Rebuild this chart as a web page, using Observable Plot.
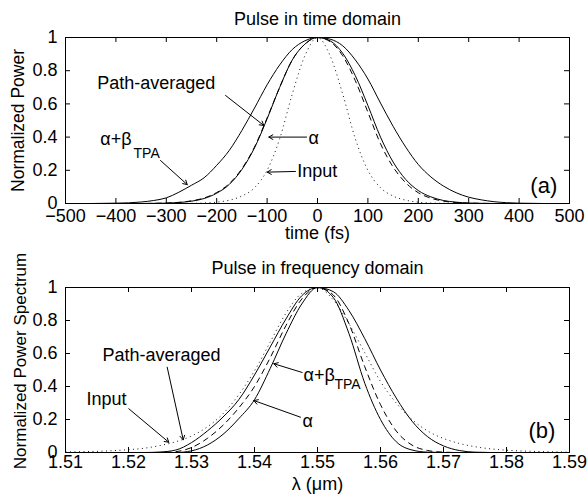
<!DOCTYPE html>
<html>
<head>
<meta charset="utf-8">
<script src="https://cdn.jsdelivr.net/npm/d3@7"></script>
<script src="https://cdn.jsdelivr.net/npm/@observablehq/plot@0.6"></script>
<style>
  html, body { margin: 0; padding: 0; background: white; overflow: hidden; }
  #chart svg { display: block; overflow: visible; }
</style>
</head>
<body>
<div id="chart"></div>
<script>
// ---------- Panel (a): time domain ----------
const timeFs = [-500,-475,-450,-425,-400,-375,-350,-325,-300,-275,-250,-225,-200,-175,-150,-125,-100,-75,-50,-25,0,25,50,75,100,125,150,175,200,225,250,275,300,325,350,375,400,425,450,475,500];
const timeInput = [0,0,0,0,0,0,0,0,0,0,0.001,0.003,0.008,0.02,0.045,0.095,0.20,0.39,0.66,0.89,1.0,0.89,0.66,0.39,0.20,0.095,0.045,0.02,0.008,0.003,0.001,0,0,0,0,0,0,0,0,0,0];
const timeAlpha = [0,0,0,0,0,0,0,0.001,0.002,0.006,0.014,0.03,0.062,0.115,0.205,0.335,0.51,0.70,0.865,0.96,1.0,0.98,0.905,0.77,0.59,0.40,0.25,0.145,0.078,0.04,0.018,0.008,0.003,0.001,0,0,0,0,0,0,0];
const timePathAvg = [0,0,0,0,0,0,0,0.001,0.003,0.007,0.016,0.033,0.066,0.12,0.21,0.34,0.515,0.70,0.865,0.96,1.0,0.975,0.89,0.74,0.55,0.36,0.22,0.125,0.065,0.032,0.014,0.006,0.002,0.001,0,0,0,0,0,0,0];
const timeAlphaTPA = [0,0,0,0.001,0.002,0.004,0.009,0.018,0.034,0.068,0.11,0.155,0.23,0.32,0.44,0.575,0.715,0.835,0.928,0.98,1.0,0.99,0.95,0.865,0.75,0.605,0.465,0.34,0.235,0.16,0.105,0.065,0.038,0.022,0.011,0.005,0.002,0.001,0,0,0];
const timeTicks = [-500,-400,-300,-200,-100,0,100,200,300,400,500];

// ---------- Panel (b): frequency domain ----------
const lambdaUm = [1.51,1.5125,1.515,1.5175,1.52,1.5225,1.525,1.5275,1.53,1.5325,1.535,1.5375,1.54,1.5425,1.545,1.5475,1.55,1.5525,1.555,1.5575,1.56,1.5625,1.565,1.5675,1.57,1.5725,1.575,1.5775,1.58,1.5825,1.585,1.5875,1.59];
const specInput = [0.003,0.005,0.007,0.011,0.017,0.026,0.042,0.065,0.10,0.155,0.235,0.35,0.495,0.67,0.845,0.965,0.998,0.925,0.78,0.605,0.43,0.30,0.20,0.13,0.085,0.055,0.035,0.022,0.014,0.009,0.006,0.004,0.002];
const specAlpha = [0,0,0,0,0,0,0,0,0.01,0.045,0.11,0.205,0.32,0.51,0.72,0.90,1.0,0.94,0.72,0.42,0.20,0.065,0.015,0.002,0,0,0,0,0,0,0,0,0];
const specPathAvg = [0,0,0,0,0,0,0,0.005,0.03,0.085,0.165,0.27,0.40,0.575,0.77,0.93,1.0,0.955,0.78,0.52,0.29,0.13,0.045,0.012,0.002,0,0,0,0,0,0,0,0];
const specAlphaTPA = [0,0,0,0,0,0,0.003,0.015,0.06,0.13,0.215,0.32,0.47,0.64,0.81,0.95,1.0,0.975,0.86,0.69,0.50,0.33,0.19,0.095,0.04,0.012,0.002,0,0,0,0,0,0];
const lambdaTicks = [1.51,1.52,1.53,1.54,1.55,1.56,1.57,1.58,1.59];

const powerTicks = [0,0.2,0.4,0.6,0.8,1];

const FONT = "'Liberation Sans', Arial, Helvetica, sans-serif";
const minusFmt = d => (d < 0 ? "\u2212" + (-d) : String(d));

function rows(xs, ys) { return ys.map((v, i) => ({x: xs[i], y: v})); }

function lineMarks(xs, input, alpha, avg, tpa) {
  return [
    Plot.line(rows(xs, input), {x: "x", y: "y", curve: "monotone-x", stroke: "#111", strokeWidth: 1, strokeDasharray: "1,3.5", strokeLinecap: "butt"}),
    Plot.line(rows(xs, avg), {x: "x", y: "y", curve: "monotone-x", stroke: "black", strokeWidth: 1, strokeDasharray: "6,4", strokeLinecap: "butt"}),
    Plot.line(rows(xs, alpha), {x: "x", y: "y", curve: "monotone-x", stroke: "black", strokeWidth: 1}),
    Plot.line(rows(xs, tpa), {x: "x", y: "y", curve: "monotone-x", stroke: "black", strokeWidth: 1})
  ];
}

function tickMarks(xt, yt, fw, fh) {
  const L = 5;
  return [
    Plot.tickX(xt, {x: d => d, insetTop: fh - L, stroke: "black"}),
    Plot.tickX(xt, {x: d => d, insetBottom: fh - L, stroke: "black"}),
    Plot.tickY(yt, {y: d => d, insetRight: fw - L, stroke: "black"}),
    Plot.tickY(yt, {y: d => d, insetLeft: fw - L, stroke: "black"})
  ];
}

function textMark(items, size, anchor = "start") {
  return Plot.text(items, {x: "x", y: "y", text: "t", textAnchor: anchor, lineAnchor: "bottom", fontSize: size, fill: "black"});
}

function frameText(str, opts) {
  return Plot.text([str], {textAnchor: "middle", lineAnchor: "middle", fontSize: 18, fill: "black", ...opts});
}

// ---------- Top panel ----------
const topAnn = [
  {t: "Path-averaged", x: -437, y: 0.687},
  {t: "\u03b1+\u03b2", x: -431, y: 0.355},
  {t: "\u03b1", x: -18, y: 0.361},
  {t: "Input", x: -40, y: 0.157}
];
const topSub = [{t: "TPA", x: -365, y: 0.277}];
const topArrows = [
  {x1: -182.5, y1: 0.651, x2: -106.5, y2: 0.47},
  {x1: -311.5, y1: 0.259, x2: -258.5, y2: 0.114},
  {x1: -21.8, y1: 0.40, x2: -96.6, y2: 0.40},
  {x1: -43.7, y1: 0.193, x2: -99.8, y2: 0.189}
];

const plotTop = Plot.plot({
  width: 588, height: 250,
  marginLeft: 65, marginRight: 19, marginTop: 37, marginBottom: 47,
  style: {fontFamily: FONT, fontSize: "18px", color: "black", background: "white", overflow: "visible"},
  x: {domain: [-500, 500], ticks: timeTicks, tickFormat: minusFmt, tickSize: 0, tickPadding: 6, label: null},
  y: {domain: [0, 1], ticks: powerTicks, tickFormat: d => String(d), tickSize: 0, tickPadding: 8, label: null},
  marks: [
    ...lineMarks(timeFs, timeInput, timeAlpha, timePathAvg, timeAlphaTPA),
    ...tickMarks(timeTicks, powerTicks, 504, 166),
    Plot.frame({stroke: "black"}),
    textMark(topAnn, 18),
    textMark(topSub, 14),
    textMark([{t: "(a)", x: 449, y: 0.064}], 22, "middle"),
    Plot.arrow(topArrows, {x1: "x1", y1: "y1", x2: "x2", y2: "y2", headLength: 7, stroke: "black", strokeWidth: 1}),
    frameText("Pulse in time domain", {frameAnchor: "top", dy: -18}),
    frameText("time (fs)", {frameAnchor: "bottom", dy: 30}),
    frameText("Normalized Power", {frameAnchor: "left", dx: -47, rotate: -90, fontSize: 17.5})
  ]
});

// ---------- Bottom panel ----------
const botAnn = [
  {t: "Path-averaged", x: 1.51587, y: 0.552},
  {t: "Input", x: 1.51333, y: 0.288},
  {t: "\u03b1+\u03b2", x: 1.54778, y: 0.436},
  {t: "\u03b1", x: 1.54762, y: 0.152}
];
const botSub = [{t: "TPA", x: 1.5527, y: 0.382}];
const botArrows = [
  {x1: 1.52614, y1: 0.517, x2: 1.52868, y2: 0.077},
  {x1: 1.52005, y1: 0.265, x2: 1.5264, y2: 0.062},
  {x1: 1.54757, y1: 0.485, x2: 1.54306, y2: 0.538},
  {x1: 1.5473, y1: 0.214, x2: 1.53989, y2: 0.315}
];

const plotBottom = Plot.plot({
  width: 588, height: 250,
  marginLeft: 65, marginRight: 19, marginTop: 37, marginBottom: 48,
  style: {fontFamily: FONT, fontSize: "18px", color: "black", background: "transparent", overflow: "visible"},
  x: {domain: [1.51, 1.59], ticks: lambdaTicks, tickFormat: d3.format(".2f"), tickSize: 0, tickPadding: 3, label: null},
  y: {domain: [0, 1], ticks: powerTicks, tickFormat: d => String(d), tickSize: 0, tickPadding: 8, label: null},
  marks: [
    ...lineMarks(lambdaUm, specInput, specAlpha, specPathAvg, specAlphaTPA),
    ...tickMarks(lambdaTicks, powerTicks, 504, 165),
    Plot.frame({stroke: "black"}),
    textMark(botAnn, 18),
    textMark(botSub, 14),
    textMark([{t: "(b)", x: 1.58563, y: 0.088}], 22, "middle"),
    Plot.arrow(botArrows, {x1: "x1", y1: "y1", x2: "x2", y2: "y2", headLength: 7, stroke: "black", strokeWidth: 1}),
    frameText("Pulse in frequency domain", {frameAnchor: "top", dy: -19.5}),
    frameText("\u03bb (\u03bcm)", {frameAnchor: "bottom", dy: 32}),
    frameText("Normalized Power Spectrum", {frameAnchor: "left", dx: -45, dy: -9, rotate: -90, fontSize: 17})
  ]
});

document.getElementById("chart").append(plotTop, plotBottom);
</script>
</body>
</html>
